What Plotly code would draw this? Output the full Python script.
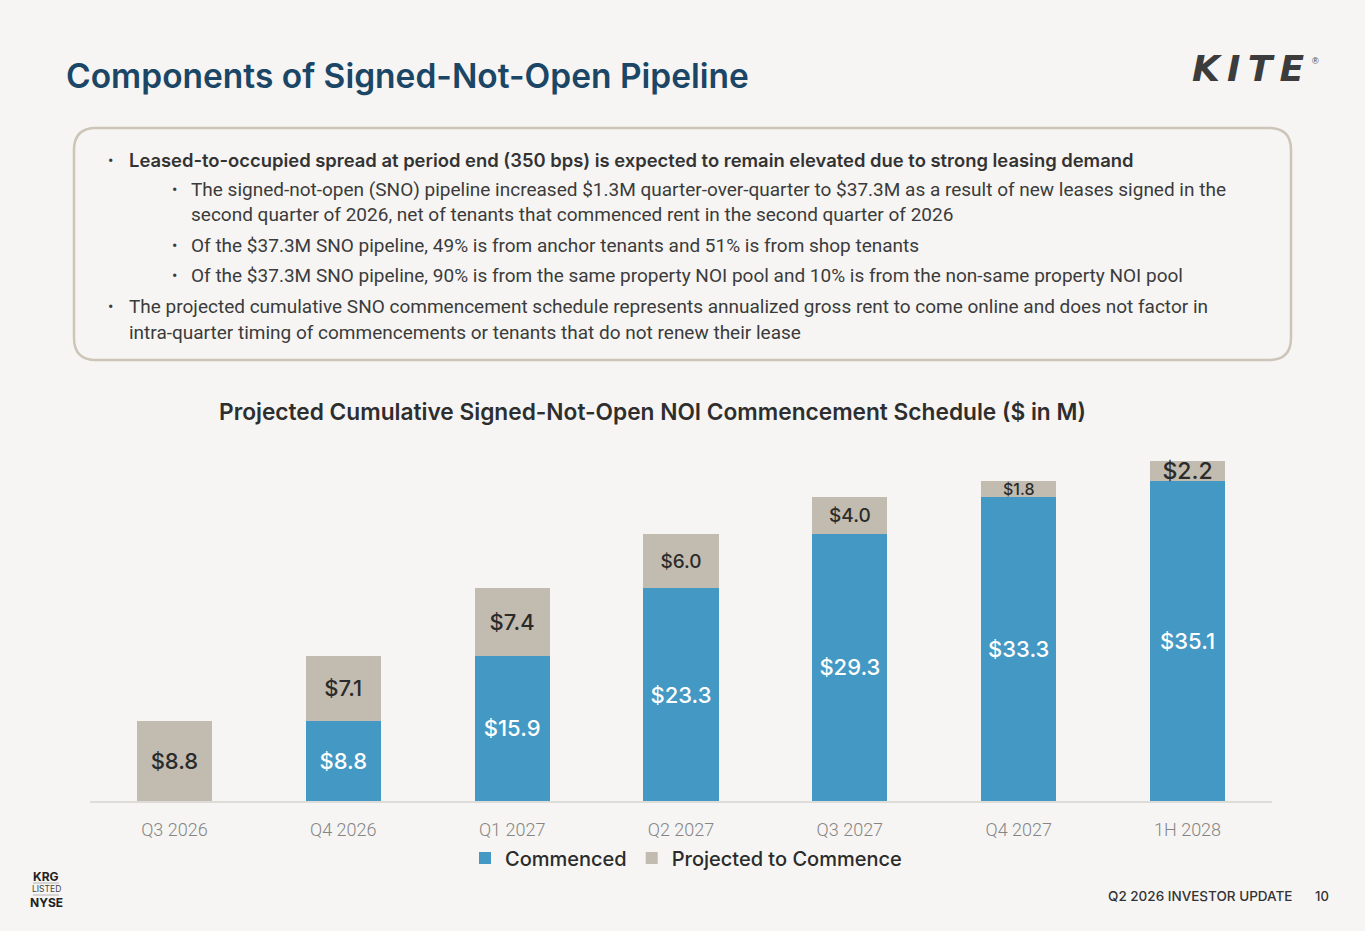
import plotly.graph_objects as go

categories = ["Q3 2026", "Q4 2026", "Q1 2027", "Q2 2027", "Q3 2027", "Q4 2027", "1H 2028"]
commenced = [0, 8.8, 15.9, 23.3, 29.3, 33.3, 35.1]
projected = [8.8, 7.1, 7.4, 6.0, 4.0, 1.8, 2.2]
projected_label_sizes = [22, 22, 22, 19, 19, 16, 23]

title = "Components of Signed-Not-Open Pipeline"
chart_title = "Projected Cumulative Signed-Not-Open NOI Commencement Schedule ($ in M)"
bullets = [
    (0, True, "Leased-to-occupied spread at period end (350 bps) is expected to remain elevated due to strong leasing demand"),
    (1, False, "The signed-not-open (SNO) pipeline increased $1.3M quarter-over-quarter to $37.3M as a result of new leases signed in the"),
    (1, False, "second quarter of 2026, net of tenants that commenced rent in the second quarter of 2026"),
    (1, False, "Of the $37.3M SNO pipeline, 49% is from anchor tenants and 51% is from shop tenants"),
    (1, False, "Of the $37.3M SNO pipeline, 90% is from the same property NOI pool and 10% is from the non-same property NOI pool"),
    (0, False, "The projected cumulative SNO commencement schedule represents annualized gross rent to come online and does not factor in"),
    (0, False, "intra-quarter timing of commencements or tenants that do not renew their lease"),
]
bullet_marks = [True, True, False, True, True, True, False]

BLUE = "#4398c4"
TAN = "#c2bbaf"
BG = "#f6f5f3"
DARK = "#2b2b2b"

W, H = 1365, 931
L, R, T, B = 90, 1272, 436, 801


def px(x):
    return (x - L) / (R - L)


def py(y):
    return (B - y) / (B - T)


fig = go.Figure()
fig.add_trace(go.Bar(
    x=categories, y=commenced, name="Commenced",
    marker=dict(color=BLUE, line=dict(width=0)),
    text=["" if v == 0 else f"${v:.1f}" for v in commenced],
    textposition="inside", insidetextanchor="middle", constraintext="none",
    textfont=dict(family="Inter", size=22, color="white", weight=500),
    hoverinfo="skip",
))
fig.add_trace(go.Bar(
    x=categories, y=projected, name="Projected to Commence",
    marker=dict(color=TAN, line=dict(width=0)),
    text=[f"${v:.1f}" for v in projected],
    textposition="inside", insidetextanchor="middle", constraintext="none",
    textfont=dict(family="Inter", size=projected_label_sizes, color=DARK, weight=500),
    hoverinfo="skip",
))

fig.update_layout(
    width=W, height=H,
    barmode="stack", bargap=0.555,
    paper_bgcolor=BG, plot_bgcolor=BG,
    margin=dict(l=L, r=W - R, t=T, b=H - B, pad=0),
    showlegend=True,
    legend=dict(orientation="h", x=px(686), xanchor="center", y=py(858), yanchor="middle",
                traceorder="normal",
                font=dict(family="Inter", size=20, color=DARK, weight=500),
                itemwidth=30, bgcolor="rgba(0,0,0,0)"),
    uniformtext=dict(mode=False),
)
fig.update_xaxes(showgrid=False, showline=True, linecolor="#dedcd9", linewidth=2,
                 ticks="", tickfont=dict(family="Roboto", size=18, color="#858585", weight=300),
                 ticklabelstandoff=11, range=[-0.5, 6.5])
fig.update_yaxes(visible=False, range=[0, 40])

ann = []
# Title
ann.append(dict(x=px(64), y=py(76), xref="paper", yref="paper", xanchor="left", yanchor="middle",
                text=title, showarrow=False,
                font=dict(family="Inter", size=33.5, color="#1b4665", weight=600)))
# Logo
ann.append(dict(x=px(1306), y=py(69), xref="paper", yref="paper", xanchor="right", yanchor="middle",
                text="<b><i>K\u2009I\u2009T\u2009E</i></b>", showarrow=False,
                font=dict(family="DejaVu Sans", size=36, color="#3c3c3c", weight=900)))
ann.append(dict(x=px(1310), y=py(61), xref="paper", yref="paper", xanchor="left", yanchor="middle",
                text="®", showarrow=False, font=dict(family="Liberation Sans", size=9, color="#3c3c3c")))
# Chart title
ann.append(dict(x=px(652), y=py(411), xref="paper", yref="paper", xanchor="center", yanchor="middle",
                text=chart_title, showarrow=False,
                font=dict(family="Inter", size=22.7, color="#2e2e2e", weight=600)))
# Bullets
line_y = [160, 189, 215, 245, 275, 306, 332]
for (lvl, bold, txt), mark, yy in zip(bullets, bullet_marks, line_y):
    bx = 106 if lvl == 0 else 170
    tx = 127 if lvl == 0 else 189
    if mark:
        ann.append(dict(x=px(bx), y=py(yy), xref="paper", yref="paper", xanchor="left", yanchor="middle",
                        text="•", showarrow=False, font=dict(family="Roboto", size=16, color="#3b3b3b")))
    if bold:
        f = dict(family="Inter", size=18.4, color="#333333", weight=600)
    else:
        f = dict(family="Roboto", size=19, color="#3b3b3b")
    ann.append(dict(x=px(tx), y=py(yy), xref="paper", yref="paper", xanchor="left", yanchor="middle",
                    text=txt, showarrow=False, font=f))
# Footer
ann.append(dict(x=px(1294), y=py(896), xref="paper", yref="paper", xanchor="right", yanchor="middle",
                text="Q2 2026 INVESTOR UPDATE", showarrow=False,
                font=dict(family="Inter", size=13.5, color="#333333", weight=500)))
ann.append(dict(x=px(1322), y=py(896), xref="paper", yref="paper", xanchor="center", yanchor="middle",
                text="10", showarrow=False, font=dict(family="Inter", size=13, color="#333333", weight=500)))
ann.append(dict(x=px(46), y=py(876), xref="paper", yref="paper", xanchor="center", yanchor="middle",
                text="<b>KRG</b>", showarrow=False, font=dict(family="Inter", size=12, color="#222222")))
ann.append(dict(x=px(46), y=py(889), xref="paper", yref="paper", xanchor="center", yanchor="middle",
                text="LISTED", showarrow=False, font=dict(family="Inter", size=8.5, color="#444444")))
ann.append(dict(x=px(46), y=py(902), xref="paper", yref="paper", xanchor="center", yanchor="middle",
                text="<b>NYSE</b>", showarrow=False, font=dict(family="Inter", size=12, color="#222222")))
fig.update_layout(annotations=ann)

# Rounded box around bullets
x0, x1, y0, y1, r = 74, 1291, 128, 360, 22
pts = [
    f"M {px(x0 + r)},{py(y0)}",
    f"L {px(x1 - r)},{py(y0)}",
    f"Q {px(x1)},{py(y0)} {px(x1)},{py(y0 + r)}",
    f"L {px(x1)},{py(y1 - r)}",
    f"Q {px(x1)},{py(y1)} {px(x1 - r)},{py(y1)}",
    f"L {px(x0 + r)},{py(y1)}",
    f"Q {px(x0)},{py(y1)} {px(x0)},{py(y1 - r)}",
    f"L {px(x0)},{py(y0 + r)}",
    f"Q {px(x0)},{py(y0)} {px(x0 + r)},{py(y0)} Z",
]
shapes = [
    dict(type="path", xref="paper", yref="paper", path=" ".join(pts),
         line=dict(color="#cdc6b8", width=2.5), fillcolor="rgba(0,0,0,0)", layer="below"),
    dict(type="line", xref="paper", yref="paper", x0=px(33), x1=px(59), y0=py(883), y1=py(883),
         line=dict(color="#999999", width=0.7)),
    dict(type="line", xref="paper", yref="paper", x0=px(33), x1=px(59), y0=py(895), y1=py(895),
         line=dict(color="#999999", width=0.7)),
]
fig.update_layout(shapes=shapes)

fig.write_html("out.html", config={"displayModeBar": False},
               post_script="document.body.style.margin='0';document.body.style.overflow='hidden';")
